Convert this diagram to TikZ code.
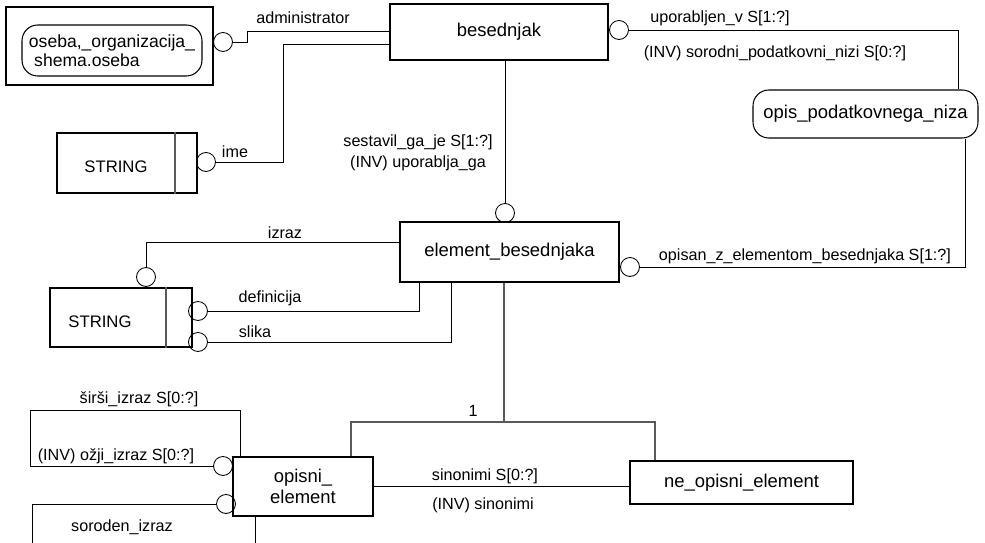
\documentclass[tikz,border=0pt]{standalone}
\usepackage{fontspec}
\setmainfont{Liberation Sans}

\begin{document}
\begin{tikzpicture}[x=0.02cm,y=-0.02cm,line width=0.5pt,
ent/.style={draw,rectangle,inner sep=0pt,line width=0.6pt,font=\fontsize{10.5}{12}\selectfont},
rel/.style={draw,circle,minimum size=0.38cm,inner sep=0pt},
lab/.style={inner sep=1pt,font=\fontsize{9.2}{11}\selectfont},
subline/.style={line width=1.3pt,black!65}]
\useasboundingbox (0,0) rectangle (985,543);

% entitete
\node[ent,minimum width=4.36cm,minimum height=1.12cm] (besednjak) at (499,32) {besednjak};
\node[ent,minimum width=4.38cm,minimum height=1.2cm] (element) at (509.5,252) {element\_besednjaka};
\node[ent,rounded corners=9pt,minimum width=4.5cm,minimum height=0.96cm] (opis) at (865.5,114) {opis\_podatkovnega\_niza};
\node[ent,minimum width=2.8cm,minimum height=1.18cm,align=center] (opisni) at (303,486.5) {opisni\_\\element};
\node[ent,minimum width=4.46cm,minimum height=0.86cm] (neopisni) at (741.5,482.5) {ne\_opisni\_element};

% oseba iz druge sheme
\node[ent,minimum width=4.14cm,minimum height=1.56cm] (osebaokvir) at (109.5,46) {};
\node[ent,rounded corners=9pt,minimum width=3.6cm,minimum height=1.02cm,align=left,
  font=\fontsize{10}{10.8}\selectfont] (oseba) at (112,50.5) {oseba,\_organizacija\_\\\hspace*{3pt}shema.oseba};

% tipa STRING
\node[ent,minimum width=2.8cm,minimum height=1.2cm] (string1) at (127,163) {};
\node[lab,font=\fontsize{9.5}{11}\selectfont] (string1t) at (116,167) {STRING};
\draw[subline] (string1.north -| 175,0) -- (string1.south -| 175,0);
\node[ent,minimum width=2.84cm,minimum height=1.18cm] (string2) at (121,317.5) {};
\node[lab,font=\fontsize{9.5}{11}\selectfont] (string2t) at (100,322) {STRING};
\draw[subline] (string2.north -| 166,0) -- (string2.south -| 166,0);

% krogci
\node[rel] (cadmin) at (223,42) {};
\node[rel] (cime) at (206,162) {};
\node[rel] (cuporabljen) at (619,30) {};
\node[rel] (csestavil) at (505,213) {};
\node[rel] (copisan) at (630,267) {};
\node[rel] (cizraz) at (146,277) {};
\node[rel] (cdef) at (198,311) {};
\node[rel] (cslika) at (198,342) {};
\node[rel] (csirsi) at (223,466) {};
\node[rel] (csoroden) at (226,504) {};

% povezave
\draw (cadmin.east) -- (247,42) -- (247,31) -- (besednjak.west |- 0,31);
\draw (besednjak.west |- 0,44) -- (283,44) -- (283,162) -- (cime.east);
\draw (csestavil |- besednjak.south) -- (csestavil.north);
\draw (cuporabljen.east) -| (opis.north -| 958,0);
\draw (copisan.east) -| (opis.south -| 965,0);
\draw (element.west |- 0,242) -| (cizraz.north);
\draw (cdef.east) -| (element.south -| 419,0);
\draw (cslika.east) -| (element.south -| 451,0);
\draw (opisni.east) -- (neopisni.west |- opisni.east);
\draw (opisni.north -| 240,0) |- (30,410) |- (csirsi.west);
\coordinate (sorodenL) at (32,543);
\coordinate (sorodenR) at (255,543);
\draw (csoroden.west) -| (sorodenL);
\draw (opisni.south -| sorodenR) -- (sorodenR);

% podtipi
\coordinate (sub) at (504,422);
\draw[subline] (element.south -| sub) -- (sub);
\draw[subline] (opisni.north -| 351,0) -- (351,422) -- (655,422) -- (neopisni.north -| 655,0);

% oznake
\node[lab] (ladmin) at (303,18) {administrator};
\node[lab] (lime) at (235,152) {ime};
\node[lab] (lsestavil) at (418,142) {sestavil\_ga\_je S[1:?]};
\node[lab] (luporablja) at (418,163) {(INV) uporablja\_ga};
\node[lab] (luporabljen) at (720,18) {uporabljen\_v S[1:?]};
\node[lab] (lsorodni) at (775,53) {(INV) sorodni\_podatkovni\_nizi S[0:?]};
\node[lab] (lopisan) at (805,256) {opisan\_z\_elementom\_besednjaka S[1:?]};
\node[lab] (lizraz) at (285,233) {izraz};
\node[lab] (ldef) at (270,298) {definicija};
\node[lab] (lslika) at (255,332) {slika};
\node[lab] (lena) at (473,411) {1};
\node[lab] (lsirsi) at (139,399) {širši\_izraz S[0:?]};
\node[lab] (lozji) at (116,456) {(INV) ožji\_izraz S[0:?]};
\node[lab] (lsinonimi) at (485,476) {sinonimi S[0:?]};
\node[lab] (lsinonimiinv) at (483,505) {(INV) sinonimi};
\node[lab] (lsoroden) at (122,527) {soroden\_izraz};
\end{tikzpicture}
\end{document}
